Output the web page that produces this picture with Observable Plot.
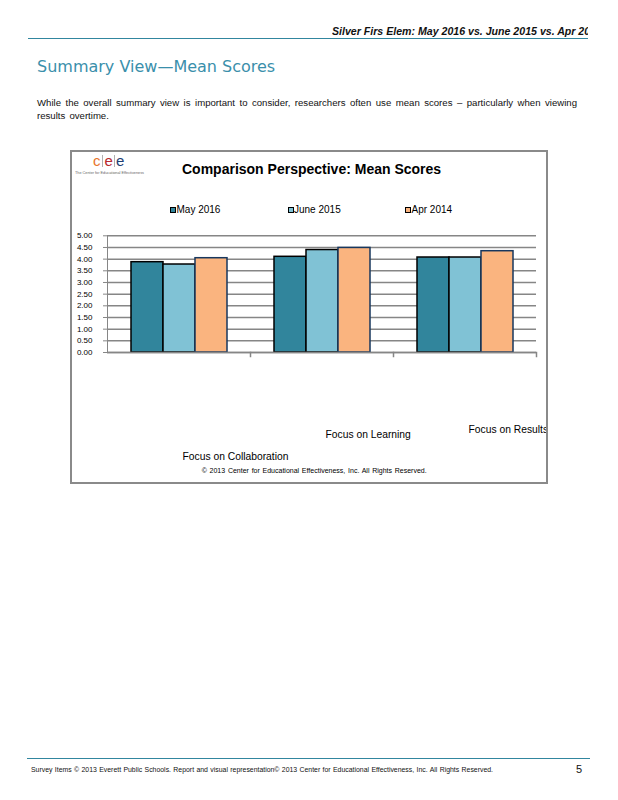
<!DOCTYPE html>
<html>
<head>
<meta charset="utf-8">
<script src="https://cdn.jsdelivr.net/npm/d3@7"></script>
<script src="https://cdn.jsdelivr.net/npm/@observablehq/plot@0.6"></script>
<style>
  html, body { margin: 0; padding: 0; background: #fff; }
  body { width: 618px; height: 800px; position: relative; overflow: hidden;
         font-family: "Liberation Sans", Arial, sans-serif; color: #000; }
  #box { position: absolute; left: 70px; top: 150px; width: 474px; height: 330px;
         border: 2px solid #8a8a8a; overflow: hidden; background: #fff; }
</style>
</head>
<body>
<script>
// ---------- data ----------
const categories = ["Focus on Collaboration", "Focus on Learning", "Focus on Results"];
const series = ["May 2016", "June 2015", "Apr 2014"];
const may2016 = [3.87, 4.10, 4.07];
const june2015 = [3.77, 4.39, 4.07];
const apr2014 = [4.04, 4.48, 4.34];
const yTicks = [0, 0.5, 1, 1.5, 2, 2.5, 3, 3.5, 4, 4.5, 5];

const pageHeader = "Silver Firs Elem: May 2016 vs. June 2015 vs. Apr 2014";
const pageTitle = "Summary View\u2014Mean Scores";
const introLines = [
  "While the overall summary view is important to consider, researchers often use mean scores \u2013 particularly when viewing",
  "results overtime."
];
const chartTitle = "Comparison Perspective: Mean Scores";
const chartCopyright = "\u00A9 2013 Center for Educational Effectiveness, Inc. All Rights Reserved.";
const footerText = "Survey Items \u00A9 2013 Everett Public Schools. Report and visual representation\u00A9 2013 Center for Educational Effectiveness, Inc. All Rights Reserved.";
const pageNumber = "5";

// ---------- styles ----------
const fills = ["#31859C", "#80C2D5", "#FAB47F"];
const strokes = ["#000000", "#000000", "#17375E"];
const teal = "#31869F";

const values = [may2016, june2015, apr2014];
const data = categories.flatMap((c, i) =>
  series.map((s, j) => ({category: c, series: s, value: values[j][i]})));

function el(tag, css, text, parent = document.body) {
  const e = document.createElement(tag);
  e.style.cssText = css;
  if (text != null) e.textContent = text;
  parent.appendChild(e);
  return e;
}

// ---------- page header ----------
const hdrWrap = el("div", "position:absolute;left:332px;top:25px;width:256px;height:14px;overflow:hidden;");
el("div", "position:absolute;left:0;top:0;white-space:nowrap;font:italic bold 10.6px/12px 'Liberation Sans',Arial,sans-serif;color:#111;", pageHeader, hdrWrap);
el("div", `position:absolute;left:28px;top:37.5px;width:560px;height:1.5px;background:${teal};`);

el("div", "position:absolute;left:37px;top:59px;white-space:nowrap;font:16px/16px 'DejaVu Sans',Verdana,sans-serif;color:#3A8FAB;", pageTitle);

introLines.forEach((t, i) => {
  el("div", `position:absolute;left:37px;top:${97.3 + i * 12.7}px;white-space:nowrap;font:9.6px/12.7px 'Liberation Sans',Arial,sans-serif;color:#111;` +
    (i === 0 ? "width:540px;text-align:justify;text-align-last:justify;" : "word-spacing:1.5px;"), t);
});

// ---------- chart box ----------
const box = el("div", "");
box.id = "box";

// logo
const logoLetters = ["c", "e", "e"];
const logoColors = ["#E8742A", "#B7282E", "#1D3F74"];
logoLetters.forEach((ch, i) => {
  el("div", `position:absolute;left:${21 + i * 11.5}px;top:0.6px;font:15px/15px 'Liberation Sans',Arial,sans-serif;color:${logoColors[i]};`, ch, box);
  if (i > 0) el("div", `position:absolute;left:${30 + (i - 1) * 11.8}px;top:3px;width:1px;height:12px;background:#b0b0b0;`, null, box);
});
el("div", "position:absolute;left:3px;top:19.3px;white-space:nowrap;font:8px/8px 'Liberation Sans',Arial,sans-serif;color:#666;transform:scale(0.475);transform-origin:0 0;", "The Center for Educational Effectiveness", box);

// chart title
el("div", "position:absolute;left:110px;top:9.2px;white-space:nowrap;font:bold 14px/16px 'Liberation Sans',Arial,sans-serif;color:#000;", chartTitle, box);

// legend
series.forEach((s, i) => {
  const x = 98 + i * 117.5;
  el("div", `position:absolute;left:${x}px;top:55px;width:4px;height:4px;border:1px solid #000;background:${fills[i]};`, null, box);
  el("div", `position:absolute;left:${x + 6.5}px;top:51.8px;white-space:nowrap;font:10px/12px 'Liberation Sans',Arial,sans-serif;color:#000;`, s, box);
});

// plot
const W = 474, H = 240, mL = 34, mR = 10, mT = 7.3, mB = 116;
const plotH = H - mT - mB;
const labelDy = [107, 85.7, 80.7];
const chart = Plot.plot({
  width: W, height: H,
  marginLeft: mL, marginRight: mR, marginTop: mT, marginBottom: mB,
  style: {background: "transparent", overflow: "hidden", fontFamily: "'Liberation Sans', Arial, sans-serif", color: "#000"},
  fx: {domain: categories, padding: 0, axis: null},
  x: {domain: series, paddingInner: 0, paddingOuter: 0.72, axis: null},
  y: {domain: [0, 5], axis: null},
  marks: [
    Plot.gridY(yTicks, {stroke: "#868686", strokeOpacity: 1, strokeWidth: 1.5}),
    Plot.frame({anchor: "left", facetAnchor: "left", stroke: "#868686", strokeWidth: 1}),
    Plot.frame({anchor: "right", stroke: "#868686", strokeWidth: 1.5, insetTop: plotH, insetBottom: -4}),
    ...series.map((s, j) => Plot.barY(data.filter(d => d.series === s), {
      fx: "category", x: "series", y: "value",
      fill: fills[j], stroke: strokes[j], strokeWidth: 1.5
    })),
    Plot.ruleY([0], {stroke: "#868686", strokeWidth: 1.5}),
    Plot.axisY({ticks: yTicks, tickFormat: d3.format(".2f"), tickSize: 4, tickPadding: 11,
      fontSize: 8, label: null, stroke: "#868686", fill: "#000"}),
    ...categories.map((c, i) => Plot.text([c], {
      fx: d => d, text: d => d, frameAnchor: "bottom", textAnchor: "start",
      dx: 3.5, dy: labelDy[i], fontSize: 10.3, fill: "#000"
    }))
  ]
});
chart.style.position = "absolute";
chart.style.left = "0px";
chart.style.top = "76px";
box.appendChild(chart);

// chart copyright
el("div", "position:absolute;left:129.7px;top:315px;width:225px;white-space:nowrap;font:7px/8px 'Liberation Sans',Arial,sans-serif;color:#000;text-align:justify;text-align-last:justify;", chartCopyright, box);

// ---------- footer ----------
el("div", `position:absolute;left:27px;top:758px;width:563px;height:1px;background:${teal};`);
el("div", "position:absolute;left:31px;top:765px;width:462px;white-space:nowrap;font:6.9px/9px 'Liberation Sans',Arial,sans-serif;color:#111;text-align:justify;text-align-last:justify;", footerText);
el("div", "position:absolute;left:576px;top:763.2px;white-space:nowrap;font:11px/12px 'Liberation Sans',Arial,sans-serif;color:#111;", pageNumber);
</script>
</body>
</html>
